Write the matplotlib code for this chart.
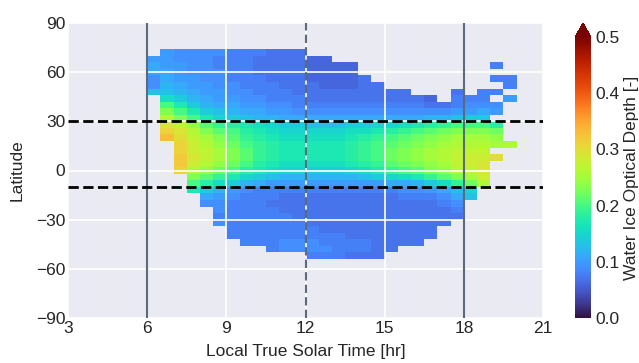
import numpy as np
import matplotlib
matplotlib.use("Agg")
import matplotlib.pyplot as plt

# ---------------- data ----------------
# local true solar time bin edges [hr]
lt_edges = [6.0, 6.5, 7.0, 7.5, 8.0, 8.5, 9.0, 9.5, 10.0, 10.5, 11.0, 11.5, 12.0,
            12.5, 13.0, 13.5, 14.0, 14.5, 15.0, 15.5, 16.0, 16.5, 17.0, 17.5,
            18.0, 18.5, 19.0, 19.5, 20.0]
# latitude bin edges [deg]
lat_edges = [-54, -50, -46, -42, -38, -34, -30, -26, -22, -18, -14, -10, -6, -2,
             2, 6, 10, 14, 18, 22, 26, 30, 34, 38, 42, 46, 50, 54, 58, 62, 66, 70, 74]

_ = None
# water ice optical depth x100, rows from north (70..74) to south (-54..-50)
r31 = [_, 10, 9, 9, 9, 9, 8, 8, 8, 7, 7, 7, _, _, _, _, _, _, _, _, _, _, _, _, _, _, _, _]
r30 = [10, 10, 9, 9, 9, 8, 8, 8, 7, 7, 7, 7, 6, 6, _, _, _, _, _, _, _, _, _, _, _, _, _, _]
r29 = [11, 10, 10, 9, 9, 8, 8, 8, 7, 7, 7, 7, 6, 6, 6, 6, _, _, _, _, _, _, _, _, _, _, 8, _]
r28 = [11, 11, 10, 9, 9, 9, 8, 8, 7, 7, 7, 7, 6, 6, 6, 6, _, _, _, _, _, _, _, _, _, _, _, _]
r27 = [9, 11, 10, 10, 9, 9, 8, 8, 8, 7, 7, 7, 6, 6, 6, 6, 7, _, _, _, _, _, _, _, _, _, 8, 8]
r26 = [9, 12, 11, 10, 10, 9, 9, 8, 8, 8, 7, 7, 7, 6, 6, 6, 7, 7, _, _, _, _, _, _, _, _, _, 8]
r25 = [13, 13, 12, 11, 10, 10, 9, 9, 8, 8, 8, 7, 7, 7, 7, 7, 7, 7, 7, 7, _, _, _, 7, _, 8, 8, _]
r24 = [_, 16, 14, 12, 11, 10, 10, 9, 9, 8, 8, 8, 7, 7, 7, 7, 7, 7, 7, 7, 7, 6, _, 8, 8, 8, _, 10]
r23 = [_, 20, 17, 14, 12, 11, 11, 10, 10, 9, 9, 8, 8, 8, 8, 8, 8, 8, 8, 8, 8, 7, 7, 8, 9, 9, 9, _]
r22 = [_, 23, 20, 17, 14, 13, 12, 11, 11, 10, 10, 9, 9, 9, 9, 9, 9, 9, 9, 9, 9, 9, 9, 10, 10, 11, 10, _]
r21 = [_, 26, 23, 20, 17, 15, 14, 13, 12, 12, 11, 11, 11, 11, 11, 11, 11, 11, 11, 11, 11, 12, 12, 13, 14, 14, _, _]
r20 = [_, 29, 27, 24, 21, 19, 18, 17, 16, 15, 14, 14, 13, 13, 13, 14, 14, 15, 15, 16, 17, 18, 19, 20, 20, 20, 18, _]
r19 = [_, 31, 29, 26, 23, 21, 20, 18, 17, 16, 15, 15, 15, 15, 15, 16, 16, 17, 18, 19, 20, 21, 22, 23, 23, 23, 22, _]
r18 = [_, 33, 30, 27, 25, 23, 21, 19, 18, 17, 16, 16, 16, 16, 16, 17, 18, 19, 20, 21, 22, 23, 24, 25, 25, 25, 24, _]
r17 = [_, _, 31, 28, 26, 24, 22, 20, 19, 18, 17, 17, 17, 17, 17, 18, 19, 20, 21, 22, 23, 24, 25, 26, 26, 26, 25, 26]
r16 = [_, _, 31, 28, 27, 25, 23, 21, 19, 18, 17, 17, 17, 17, 17, 18, 19, 20, 22, 23, 24, 25, 26, 27, 27, 27, _, _]
r15 = [_, _, 32, 29, 27, 25, 23, 21, 19, 18, 17, 17, 17, 17, 17, 18, 19, 20, 22, 23, 24, 25, 26, 27, 28, 28, 30, _]
r14 = [_, _, 32, 28, 26, 24, 22, 20, 18, 17, 16, 16, 16, 16, 16, 17, 18, 19, 21, 22, 23, 24, 25, 27, 28, 29, _, _]
r13 = [_, _, 31, 26, 24, 22, 20, 18, 17, 16, 15, 15, 14, 14, 14, 15, 16, 17, 19, 20, 21, 23, 24, 26, 27, 29, _, _]
r12 = [_, _, _, 23, 21, 19, 17, 15, 14, 13, 12, 12, 12, 12, 12, 12, 13, 14, 15, 16, 17, 19, 21, 23, 25, 28, _, _]
r11 = [_, _, _, 20, 18, 16, 14, 12, 11, 10, 10, 10, 10, 10, 10, 10, 10, 10, 11, 11, 12, 14, 16, 19, 22, 26, _, _]
r10 = [_, _, _, 17, 14, 12, 10, 9, 8, 8, 8, 8, 8, 8, 8, 8, 8, 8, 8, 9, 9, 10, 11, 13, 15, _, _, _]
r9 = [_, _, _, _, 11, 10, 9, 8, 8, 8, 7, 7, 7, 7, 7, 7, 7, 7, 7, 8, 8, 8, 9, 11, 13, _, _, _]
r8 = [_, _, _, _, 9, 9, 8, 8, 8, 7, 7, 7, 7, 7, 7, 7, 7, 7, 7, 7, 7, 7, 8, 9, _, _, _, _]
r7 = [_, _, _, _, _, 9, 8, 8, 8, 8, 7, 7, 7, 7, 7, 7, 7, 7, 7, 7, 7, 7, 7, 8, _, _, _, _]
r6 = [_, _, _, _, _, 8, 8, 8, 8, 8, 8, 7, 7, 7, 7, 7, 7, 7, 7, 7, 7, 7, 7, 7, _, _, _, _]
r5 = [_, _, _, _, _, 9, 8, 8, 8, 8, 8, 8, 7, 7, 7, 7, 7, 7, 7, 7, 7, 7, 7, _, _, _, _, _]
r4 = [_, _, _, _, _, _, 8, 8, 8, 8, 8, 8, 8, 7, 7, 7, 7, 7, 7, 7, 7, 7, _, _, _, _, _, _]
r3 = [_, _, _, _, _, _, 8, 8, 8, 8, 8, 8, 8, 8, 8, 7, 7, 7, 7, 7, 7, 7, _, _, _, _, _, _]
r2 = [_, _, _, _, _, _, _, 8, 8, 8, 9, 9, 9, 8, 8, 8, 8, 7, 7, 7, 7, _, _, _, _, _, _, _]
r1 = [_, _, _, _, _, _, _, _, _, 8, 9, 9, 9, 9, 8, 8, 8, 7, 7, _, _, _, _, _, _, _, _, _]
r0 = [_, _, _, _, _, _, _, _, _, _, _, _, 8, 8, 8, 7, 7, 7, _, _, _, _, _, _, _, _, _, _]

rows_south_to_north = [r0, r1, r2, r3, r4, r5, r6, r7, r8, r9, r10, r11, r12, r13, r14,
                       r15, r16, r17, r18, r19, r20, r21, r22, r23, r24, r25, r26, r27,
                       r28, r29, r30, r31]

xticks = [3, 6, 9, 12, 15, 18, 21]
yticks = [-90, -60, -30, 0, 30, 60, 90]
cbar_ticks = [0.0, 0.1, 0.2, 0.3, 0.4, 0.5]
terminator_lines = [6, 18]
noon_line = [12]
lat_bounds = [30, -10]

# ---------------- build array ----------------
tau = np.array([[np.nan if v is None else v / 100.0 for v in r] for r in rows_south_to_north])
tau = np.ma.masked_invalid(tau)

# ---------------- style ----------------
plt.rcParams['font.family'] = ['Liberation Sans', 'DejaVu Sans']
plt.rcParams['axes.facecolor'] = '#EAEAF2'
plt.rcParams['text.color'] = '.15'
plt.rcParams['axes.labelcolor'] = '.15'
plt.rcParams['xtick.color'] = '.15'
plt.rcParams['ytick.color'] = '.15'

fig = plt.figure(figsize=(6.39, 3.63), dpi=100)
ax = fig.add_axes([68 / 639, 45 / 363, 475 / 639, 295 / 363])
cax = fig.add_axes([575 / 639, 45 / 363, 16 / 639, 295 / 363])

mesh = ax.pcolormesh(lt_edges, lat_edges, tau, cmap='turbo', vmin=0, vmax=0.5, zorder=1)

ax.set_xlim(3, 21)
ax.set_ylim(-90, 90)
ax.set_xticks(xticks)
ax.set_yticks(yticks)
ax.tick_params(axis='both', length=0, labelsize=12.5, pad=2)
ax.grid(True, color='white', linewidth=1.2, zorder=2)
ax.set_axisbelow(False)
for s in ax.spines.values():
    s.set_visible(False)

for x in terminator_lines:
    ax.axvline(x, color='#5b6b7c', linewidth=1.5, zorder=3)
for x in noon_line:
    ax.axvline(x, color='#5b6b7c', linewidth=1.5, linestyle=(0, (4, 2)), zorder=3)
for y in lat_bounds:
    ax.axhline(y, color='black', linewidth=2, linestyle='--', zorder=4)

ax.set_xlabel('Local True Solar Time [hr]', fontsize=12.5, labelpad=6)
ax.set_ylabel('Latitude', fontsize=12.5, labelpad=8)

cbar = fig.colorbar(mesh, cax=cax, extend='max')
cbar.set_ticks(cbar_ticks)
cbar.set_ticklabels([f'{t:.1f}' for t in cbar_ticks])
cbar.ax.tick_params(length=0, labelsize=12.5, pad=3)
cbar.outline.set_visible(False)
cbar.set_label('Water Ice Optical Depth [-]', fontsize=12.5, labelpad=3)

fig.savefig('out.png', dpi=100)
